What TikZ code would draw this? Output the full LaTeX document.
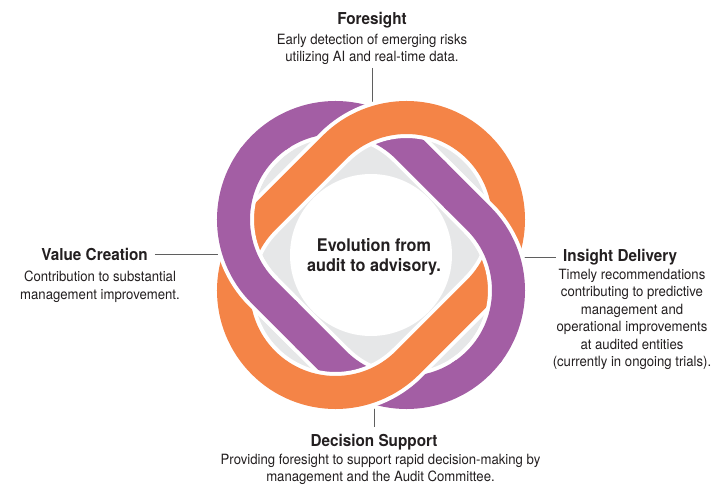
\documentclass[tikz,border=0pt]{standalone}
\usepackage{fontspec}
\setmainfont{TeX Gyre Heros}[FakeStretch = 0.93]
\usepackage{tikz}
\usetikzlibrary{positioning}

\definecolor{bandpurple}{RGB}{163,94,164}
\definecolor{bandorange}{RGB}{244,132,71}
\definecolor{ringgray}{RGB}{230,231,232}
\definecolor{inkgray}{RGB}{35,31,32}
\definecolor{rulegray}{RGB}{95,95,95}

% the two loops, each a stadium turned by 45 degrees
\newcommand{\purpleloop}{(3.6625, 10.7625) -- (10.7625, 3.6625)
	arc[start angle = 45, end angle = -135, radius = 10.2] --
	(-10.7625, -3.6625)
	arc[start angle = 225, end angle = 45, radius = 10.2] -- cycle}
\newcommand{\orangeloop}{(-10.7625, 3.6625) -- (-3.6625, 10.7625)
	arc[start angle = 135, end angle = -45, radius = 10.2] --
	(3.6625, -10.7625)
	arc[start angle = -45, end angle = -225, radius = 10.2] -- cycle}

\begin{document}
\begin{tikzpicture}[x = 10bp, y = 10bp,
	band/.style = {white, line width = 4bp, double distance = 33bp},
	heading/.style = {font = \fontsize{16.5}{20}\selectfont\bfseries, text = inkgray, inner sep = 7bp},
	blurb/.style = {font = \fontsize{14.2}{17.5}\selectfont, text = inkgray, align = center, inner sep = 3bp, anchor = base},
	rule/.style = {rulegray, line width = 0.9bp}]
\useasboundingbox (-37.1, -23.0) rectangle (34.6, 25.5);
\coordinate (hub) at (0, 0);

% labels round the knot (a blurb sits on the baseline of its last line)
\node[heading, anchor = base] (foresight) at (0.1, 23.0) {Foresight};
\node[blurb] (foresight-text) at (0.1, 19.35) {Early detection of emerging risks\\utilizing AI and real-time data.};
\node[heading, anchor = base east] (value) at (-21.6, -0.57) {Value Creation};
\node[blurb] (value-text) at (-27.1, -4.43) {Contribution to substantial\\management improvement.};
\node[heading, anchor = base west] (insight) at (18.5, -0.67) {Insight Delivery};
\node[blurb] (insight-text) at (26.1, -11.17) {Timely recommendations\\contributing to predictive\\management and\\operational improvements\\at audited entities\\(currently in ongoing trials).};
\node[heading, anchor = base] (decision) at (0.3, -19.17) {Decision Support};
\node[blurb] (decision-text) at (0.95, -22.67) {Providing foresight to support rapid decision-making by\\management and the Audit Committee.};

\draw[rule] (foresight-text.south) -- (foresight-text.south |- hub);
\draw[rule] (value.east) -- (value.east -| hub);
\draw[rule] (insight.west -| hub) -- (insight.west);
\draw[rule] (decision.north |- hub) -- (decision.north);

\fill[color = ringgray] (hub) circle (14);
\fill[color = white] (hub) circle (8.1);

\draw[band, double = bandpurple] \purpleloop;
\draw[band, double = bandorange] \orangeloop;
% purple runs over orange at the left and right crossings
\begin{scope}
	\clip (-18.5, -10.5) rectangle (-7.6, 10.5) (7.6, -10.5) rectangle (18.5, 10.5);
	\draw[white, line width = 41bp] \purpleloop;
\end{scope}
\begin{scope}
	\clip (-18.8, -10.8) rectangle (-7.3, 10.8) (7.3, -10.8) rectangle (18.8, 10.8);
	\draw[bandpurple, line width = 33bp] \purpleloop;
\end{scope}

\node[font = \fontsize{17.5}{20.5}\selectfont\bfseries, text = inkgray, align = center] (evolution) at (0.3, -0.2) {Evolution from\\audit to advisory.};
\end{tikzpicture}
\end{document}
